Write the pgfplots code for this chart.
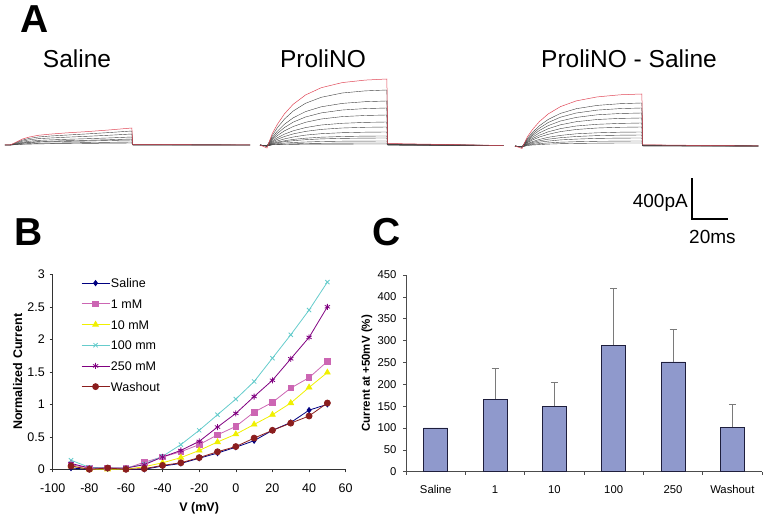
\documentclass[border=0pt]{standalone}
\usepackage{pgfplots}
\pgfplotsset{compat=1.18}
\usepackage{pgfplotstable}
\usepackage{fontspec}
\setmainfont{Liberation Sans}
\usetikzlibrary{plotmarks}

\definecolor{cSal}{HTML}{000080}
\definecolor{cOne}{HTML}{CC66B3}
\definecolor{cTen}{HTML}{F0F000}
\definecolor{cHun}{HTML}{66CCCC}
\definecolor{cTwo}{HTML}{800080}
\definecolor{cWash}{HTML}{8B1E1E}
\definecolor{barfill}{HTML}{8F99CC}
\definecolor{baredge}{HTML}{1E1E3C}
\definecolor{tracered}{HTML}{E04858}
\definecolor{tracegray}{HTML}{404040}
\definecolor{errgray}{HTML}{7A7A7A}

% Saline traces (time in ms, current in pA)
\pgfplotstableread{
t s1 s2 s3 s4 s5 s6 s7 s8
0 0 0 0 0 0 0 0 0
3 0 0 0 0 0 0 0 0
7 34 28 22 16 12 10 6 4
10 60 49 39 28 21 18 11 7
14 80 66 52 38 28 24 14 9
19 97 80 63 46 34 29 17 11
26 109 90 70 51 38 32 19 13
35 121 99 78 57 43 36 21 14
47 134 111 87 63 47 40 24 16
60 151 125 98 71 53 45 27 18
72.5 170 140 110 80 60 50 30 20
73 5 4 3 2 2 1 1 0
140 0 0 0 0 0 0 0 0
}\salinetbl

% ProliNO traces
\pgfplotstableread{
t p1 p2 p3 p4 p5 p6 p7 p8 p9 p10 p11 p12 p13
0 0 0 0 0 0 0 0 0 0 0 0 0 0
4 -30 -15 -10 -10 -10 -10 -10 -10 -10 -10 -10 -10 -10
7 114 95 76 64 52 40 31 22 16 12 7 3 2
10 209 174 139 117 95 73 57 41 29 22 13 6 3
14 312 260 208 175 142 109 85 61 42 33 19 9 5
19 408 340 272 229 185 142 111 80 56 43 25 12 6
26 500 417 334 280 227 174 136 99 68 53 30 15 8
35 573 477 382 321 260 200 156 113 78 61 35 17 9
47 624 520 416 350 284 217 170 123 85 66 38 19 9
60 649 541 433 364 295 226 177 128 89 69 39 20 10
72.5 660 550 440 370 300 230 180 130 90 70 40 20 10
73 15 12 10 8 7 5 4 3 2 2 1 0 0
139 -5 -5 -5 -5 -5 -5 -5 -5 -5 -5 -5 -5 -5
}\prolitbl

% ProliNO - Saline traces
\pgfplotstableread{
t d1 d2 d3 d4 d5 d6 d7 d8 d9 d10 d11 d12
0 0 0 0 0 0 0 0 0 0 0 0 0
4 -25 -10 -10 -10 -10 -10 -10 -10 -10 -10 -10 -10
7 90 74 66 57 48 40 33 24 19 14 9 5
10 165 136 120 105 89 73 60 44 35 25 16 10
14 245 203 179 156 132 109 90 66 52 38 24 14
19 321 266 235 204 173 142 117 87 68 49 31 19
26 394 326 288 250 212 174 144 106 83 61 38 23
35 451 373 330 286 243 200 165 122 95 69 43 26
47 491 406 359 312 265 217 180 132 104 76 47 28
60 512 423 374 325 276 226 187 138 108 79 49 30
72.5 520 430 380 330 280 230 190 140 110 80 50 30
73 12 10 9 8 7 5 4 3 3 2 1 1
139 0 0 0 0 0 0 0 0 0 0 0 0
}\difftbl

% I-V curves
\pgfplotstableread{
V sal one ten hun two wash
-90 0.02 0.07 0.05 0.14 0.09 0.05
-80 0.00 0.02 0.00 0.03 0.02 0.00
-70 0.01 0.02 0.00 0.02 0.02 0.02
-60 0.00 0.01 0.00 0.02 0.02 0.00
-50 0.00 0.11 0.04 0.08 0.07 0.01
-40 0.05 0.19 0.10 0.20 0.19 0.06
-30 0.09 0.27 0.18 0.38 0.29 0.10
-20 0.17 0.38 0.29 0.60 0.43 0.18
-10 0.25 0.53 0.42 0.84 0.65 0.27
0 0.34 0.66 0.54 1.08 0.86 0.35
10 0.44 0.88 0.69 1.35 1.12 0.48
20 0.60 1.03 0.84 1.71 1.37 0.60
30 0.72 1.25 1.02 2.07 1.70 0.71
40 0.91 1.41 1.26 2.45 2.03 0.82
50 1.00 1.66 1.49 2.88 2.50 1.02
}\ivtbl

\newcommand{\tfont}{\fontsize{12.5}{15}\selectfont}
\newcommand{\cfont}{\fontsize{11.3}{13}\selectfont}

\begin{document}
\begin{tikzpicture}
\useasboundingbox (0pt,0pt) rectangle (768pt,523pt);

% ---------- Panel A ----------
\node[anchor=base west, inner sep=0pt, font=\bfseries\fontsize{39}{44}\selectfont] at (20pt,490pt) {A};
\node[anchor=base, inner sep=0pt, font=\fontsize{24.5}{28}\selectfont] at (77pt,455pt) {Saline};
\node[anchor=base, inner sep=0pt, font=\fontsize{24.5}{28}\selectfont] at (323pt,455pt) {ProliNO};
\node[anchor=base, inner sep=0pt, font=\fontsize{24.5}{28}\selectfont] at (629pt,455pt) {ProliNO - Saline};

\begin{axis}[at={(5pt,373pt)}, anchor=south west, x=1.75pt, y=0.1pt,
  xmin=0, xmax=140, ymin=-50, ymax=700, hide axis, clip=false]
  \pgfplotsinvokeforeach{2,...,8}{\addplot[tracegray, line width=0.4pt] table[x=t, y=s#1]{\salinetbl};}
  \addplot[tracered, line width=0.5pt] table[x=t, y=s1]{\salinetbl};
\end{axis}

\begin{axis}[at={(260pt,373pt)}, anchor=south west, x=1.75pt, y=0.1pt,
  xmin=0, xmax=140, ymin=-50, ymax=700, hide axis, clip=false]
  \pgfplotsinvokeforeach{2,...,13}{\addplot[tracegray, line width=0.4pt] table[x=t, y=p#1]{\prolitbl};}
  \addplot[tracered, line width=0.5pt] table[x=t, y=p1]{\prolitbl};
\end{axis}

\begin{axis}[at={(515pt,372pt)}, anchor=south west, x=1.75pt, y=0.1pt,
  xmin=0, xmax=140, ymin=-50, ymax=700, hide axis, clip=false]
  \pgfplotsinvokeforeach{2,...,12}{\addplot[tracegray, line width=0.4pt] table[x=t, y=d#1]{\difftbl};}
  \addplot[tracered, line width=0.5pt] table[x=t, y=d1]{\difftbl};
\end{axis}

% scale bar
\draw[line width=2.4pt, line cap=rect] (692pt,344pt) -- (692pt,304pt) -- (727pt,304pt);
\node[anchor=base east, inner sep=0pt, font=\fontsize{19}{22}\selectfont] at (688pt,316pt) {400pA};
\node[anchor=base west, inner sep=0pt, font=\fontsize{19}{22}\selectfont] at (689pt,280pt) {20ms};

% ---------- Panel B ----------
\node[anchor=base west, inner sep=0pt, font=\bfseries\fontsize{39}{44}\selectfont] at (14.5pt,278pt) {B};
\begin{axis}[at={(52.7pt,53.7pt)}, anchor=south west, scale only axis,
  width=293pt, height=195pt,
  xmin=-100, xmax=60, ymin=0, ymax=3,
  axis x line*=bottom, axis y line*=left,
  xtick={-100,-80,...,60}, ytick={0,0.5,...,3},
  tick align=outside, major tick length=3pt,
  axis line style={black!80, line width=0.6pt},
  tick style={black!80, line width=0.6pt},
  tick label style={font=\tfont},
  xticklabel style={yshift=-8pt},
  yticklabel style={xshift=-1.4pt},
  /pgf/number format/assume math mode=true,
  xlabel={V (mV)}, ylabel={Normalized Current},
  label style={font=\bfseries\tfont},
  xlabel style={at={(axis description cs:0.5,-0.198)}, anchor=center},
  ylabel style={at={(axis description cs:-0.12,0.5)}, anchor=center},
  legend style={draw=none, fill=none, at={(axis description cs:0.0965,0.984)},
    anchor=north west, inner sep=0pt, row sep=9.7pt, font=\tfont,
    nodes={inner sep=1pt, text height=9pt, text depth=0pt}},
  legend cell align=left,
  legend image code/.code={\draw[mark repeat=2, mark phase=2] plot coordinates {(0pt,0pt) (14pt,0pt) (28pt,0pt)};},
  clip=false]
  \addplot[cSal, line width=0.8pt, mark=diamond*, mark size=2.6pt, mark options={fill=cSal}] table[x=V, y=sal]{\ivtbl};
  \addlegendentry{Saline}
  \addplot[cOne, line width=0.8pt, mark=square*, mark size=2.8pt, mark options={fill=cOne}] table[x=V, y=one]{\ivtbl};
  \addlegendentry{1 mM}
  \addplot[cTen, line width=0.8pt, mark=triangle*, mark size=3.2pt, mark options={fill=cTen}] table[x=V, y=ten]{\ivtbl};
  \addlegendentry{10 mM}
  \addplot[cHun, line width=0.8pt, mark=x, mark size=3pt] table[x=V, y=hun]{\ivtbl};
  \addlegendentry{100 mm}
  \addplot[cTwo, line width=0.8pt, mark=asterisk, mark size=3pt] table[x=V, y=two]{\ivtbl};
  \addlegendentry{250 mM}
  \addplot[cWash, line width=0.8pt, mark=*, mark size=3pt, mark options={fill=cWash}] table[x=V, y=wash]{\ivtbl};
  \addlegendentry{Washout}
\end{axis}

% ---------- Panel C ----------
\node[anchor=base west, inner sep=0pt, font=\bfseries\fontsize{39}{44}\selectfont] at (372pt,278pt) {C};
\begin{axis}[at={(406pt,51.3pt)}, anchor=south west, scale only axis,
  width=356pt, height=196.7pt,
  xmin=-0.5, xmax=5.5, ymin=0, ymax=450,
  axis x line*=bottom, axis y line*=left,
  xtick={-0.5,0.5,...,5.5}, x tick label as interval,
  xticklabels={Saline,1,10,100,250,Washout},
  ytick={0,50,...,450},
  tick align=outside, major tick length=3pt,
  axis line style={black!70, line width=0.6pt},
  tick style={black!70, line width=0.6pt},
  tick label style={font=\cfont},
  xticklabel style={yshift=-7pt},
  yticklabel style={xshift=-3pt},
  /pgf/number format/assume math mode=true,
  ylabel={Current at +50mV (\%)},
  ylabel style={font=\bfseries\fontsize{11.5}{13}\selectfont, at={(axis description cs:-0.1096,0.5)}, anchor=center},
  clip=false]
  \addplot[ybar, bar width=0.01pt, bar shift=0pt, draw=errgray, fill=none, line width=0.9pt,
    error bars/.cd, y dir=plus, y explicit,
    error bar style={draw=errgray, line width=0.9pt},
    error mark options={draw=errgray, line width=0.9pt, mark size=3.5pt, rotate=90}]
    coordinates {(1,166) +- (0,71) (2,150) +- (0,55) (3,288) +- (0,132) (4,251) +- (0,75) (5,102) +- (0,52)};
  \addplot[ybar, bar width=24pt, bar shift=0pt, fill=barfill, draw=baredge, line width=0.7pt]
    coordinates {(0,100) (1,166) (2,150) (3,288) (4,251) (5,102)};
\end{axis}
\end{tikzpicture}
\end{document}
